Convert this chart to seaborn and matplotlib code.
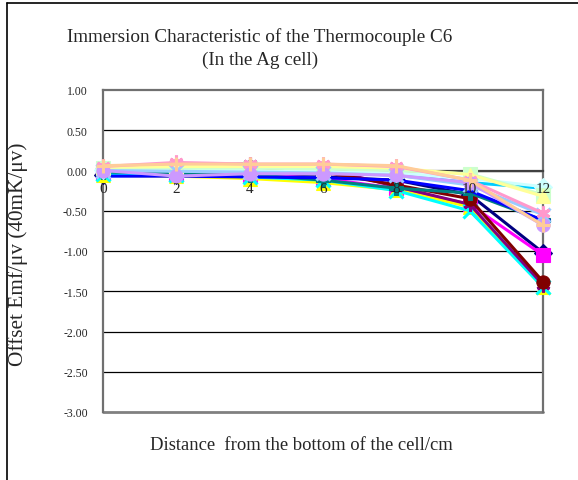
import matplotlib
matplotlib.use("Agg")
import matplotlib.pyplot as plt
import seaborn as sns
import pandas as pd
from matplotlib.lines import Line2D

sns.set_theme(style="white")
plt.rcParams['font.family'] = ['Liberation Serif', 'DejaVu Serif']

distance = [0, 2, 4, 6, 8, 10, 12]
xtick_labels = ["0", "2", "4", "6", "8", "10", "12"]
ytick_values = [1.0, 0.5, 0.0, -0.5, -1.0, -1.5, -2.0, -2.5, -3.0]

s01 = [-0.05, -0.06, -0.07, -0.08, -0.12, -0.30, -1.02]
s02 = [-0.03, -0.04, -0.05, -0.10, -0.22, -0.42, -1.05]
s03 = [-0.06, -0.07, -0.10, -0.15, -0.24, -0.45, -1.45]
s04 = [-0.04, -0.05, -0.08, -0.12, -0.25, -0.50, -1.45]
s05 = [0.02, 0.07, 0.08, 0.03, -0.20, -0.42, -1.42]
s06 = [0.00, 0.04, 0.04, -0.02, -0.18, -0.35, -1.38]
s07 = [-0.02, -0.03, -0.05, -0.12, -0.22, -0.28, -0.62]
s08 = [-0.07, -0.07, -0.08, -0.09, -0.12, -0.25, -0.62]
s09 = [0.00, 0.00, -0.01, -0.02, -0.06, -0.15, -0.22]
s10 = [0.01, 0.01, 0.00, -0.01, -0.03, -0.10, -0.20]
s11 = [0.03, 0.03, 0.03, 0.02, 0.00, -0.04, -0.30]
s12 = [0.04, 0.05, 0.05, 0.05, 0.03, -0.05, -0.32]
s13 = [0.00, -0.01, -0.02, -0.03, -0.06, -0.18, -0.55]
s14 = [0.05, 0.10, 0.08, 0.08, 0.05, -0.12, -0.53]
s15 = [0.00, -0.07, -0.04, -0.04, -0.06, -0.15, -0.68]
s16 = [0.06, 0.08, 0.08, 0.08, 0.06, -0.12, -0.68]

series = [s01, s02, s03, s04, s05, s06, s07, s08,
          s09, s10, s11, s12, s13, s14, s15, s16]
colors = ["#000080", "#FF00FF", "#FFFF00", "#00FFFF", "#800080", "#800000",
          "#008080", "#0000FF", "#00CCFF", "#CCFFFF", "#CCFFCC", "#FFFF99",
          "#99CCFF", "#FF99CC", "#CC99FF", "#FFCC99"]
markers = ["D", "s", "^", "x", (6, 2, 0), "o", "P", "_",
           "_", "D", "s", "^", "x", (6, 2, 0), "o", "+"]

fig = plt.figure(figsize=(5.78, 4.81), dpi=100)
ax = fig.add_axes([103 / 578, 1 - 413 / 481, 440 / 578, 322 / 481])

for i, (vals, c, m) in enumerate(zip(series, colors, markers)):
    df = pd.DataFrame({"x": distance, "y": vals})
    thin = m in ("x", "+", "_") or isinstance(m, tuple)
    sns.lineplot(data=df, x="x", y="y", ax=ax, color=c, linewidth=2.2,
                 marker=m, markersize=10 if thin else 9.5, markeredgecolor=c,
                 markeredgewidth=2.2 if thin else 0.8,
                 zorder=3 + i, clip_on=False)

ax.set_xlim(0, 12)
ax.set_ylim(-3.0, 1.0)
ax.set_yticks(ytick_values)
ax.set_yticklabels([f"{v:.2f}" for v in ytick_values], fontsize=8.5)
ax.set_xticks(distance)
ax.set_xticklabels(xtick_labels, fontsize=10)
ax.tick_params(axis="y", length=0, pad=11)
ax.tick_params(axis="x", length=0, pad=8)
ax.xaxis.set_zorder(60)

for v in ytick_values[1:-1]:
    ax.axhline(v, color="black", linewidth=0.9, zorder=1)

for side in ["left", "right", "top", "bottom"]:
    ax.spines[side].set_visible(True)
    ax.spines[side].set_color("#707070")
    ax.spines[side].set_linewidth(1.6)
ax.spines["bottom"].set_position(("data", 0))
ax.spines["bottom"].set_color("#404040")
ax.axhline(-3.0, color="#808080", linewidth=2.0, zorder=2, clip_on=False)

ax.set_xlabel("")
ax.set_ylabel("")

fig.text(260 / 578, 1 - 37 / 481, "Immersion Characteristic of the Thermocouple C6",
         ha="center", va="center", fontsize=13.8)
fig.text(260 / 578, 1 - 60 / 481, "(In the Ag cell)",
         ha="center", va="center", fontsize=13.8)
fig.text(301 / 578, 1 - 446 / 481, "Distance  from the bottom of the cell/cm",
         ha="center", va="center", fontsize=13.4)
fig.text(18 / 578, 1 - 254 / 481, "Offset Emf/\u03bcv (40mK/\u03bcv)",
         ha="center", va="center", rotation=90, fontsize=15.3)

fig.add_artist(Line2D([7 / 578, 7 / 578], [0, 1 - 4 / 481], color="black", linewidth=1.2))
fig.add_artist(Line2D([7 / 578, 1], [1 - 4 / 481, 1 - 4 / 481], color="black", linewidth=1.2))

fig.savefig("out.png", dpi=100)
